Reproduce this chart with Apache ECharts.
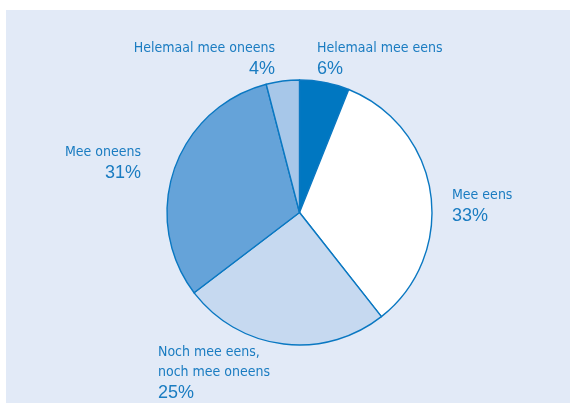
<!DOCTYPE html>
<html>
<head>
<meta charset="utf-8">
<script src="https://cdn.jsdelivr.net/npm/echarts@6/dist/echarts.min.js"></script>
<style>
  html, body { margin: 0; padding: 0; background: #ffffff; }
  #chart { width: 570px; height: 403px; }
</style>
</head>
<body>
<div id="chart"></div>
<script>
// Answer categories, clockwise from 12 o'clock
const categories = [
  'Helemaal mee eens',
  'Mee eens',
  'Noch mee eens,\nnoch mee oneens',
  'Mee oneens',
  'Helemaal mee oneens'
];
// Share of respondents (%)
const shares = [6, 33, 25, 31, 4];
const sliceColors = ['#0077c1', '#ffffff', '#c6d9f0', '#65a3d9', '#a7c7e9'];

// Label anchor points and alignment per slice
const labelSpots = [
  { x: 317, y: 38, align: 'left' },
  { x: 452, y: 185, align: 'left' },
  { x: 158, y: 342, align: 'left' },
  { x: 141, y: 142, align: 'right' },
  { x: 275, y: 38, align: 'right' }
];

const chart = echarts.init(document.getElementById('chart'), null, { renderer: 'canvas' });

const nameFont = '"Liberation Sans Narrow", "DejaVu Sans Condensed", sans-serif';
const pctFont = '"Liberation Sans", Arial, sans-serif';

chart.setOption({
  animation: false,
  graphic: [{
    type: 'rect',
    shape: { x: 6, y: 10, width: 564, height: 393 },
    style: { fill: '#e2eaf7' },
    z: -10
  }],
  series: [{
    type: 'pie',
    center: [299.5, 212.5],
    radius: 132.5,
    startAngle: 90,
    clockwise: true,
    data: categories.map((name, i) => ({
      name: name,
      value: shares[i],
      itemStyle: { color: sliceColors[i] }
    })),
    itemStyle: { borderColor: '#0a78c2', borderWidth: 1.4 },
    emphasis: { disabled: true },
    labelLine: { show: false },
    label: {
      show: true,
      position: 'outside',
      formatter: (p) => p.name.split('\n').map(s => '{n|' + s + '}').join('\n') + '\n{p|' + p.value + '%}',
      rich: {
        n: { fontFamily: nameFont, fontSize: 14, color: '#1a7cc1', lineHeight: 20 },
        p: { fontFamily: pctFont, fontSize: 18, color: '#1a7cc1', lineHeight: 22 }
      }
    },
    labelLayout: (params) => {
      const s = labelSpots[params.dataIndex];
      return { x: s.x, y: s.y, align: s.align, verticalAlign: 'top' };
    }
  }]
});
</script>
</body>
</html>
